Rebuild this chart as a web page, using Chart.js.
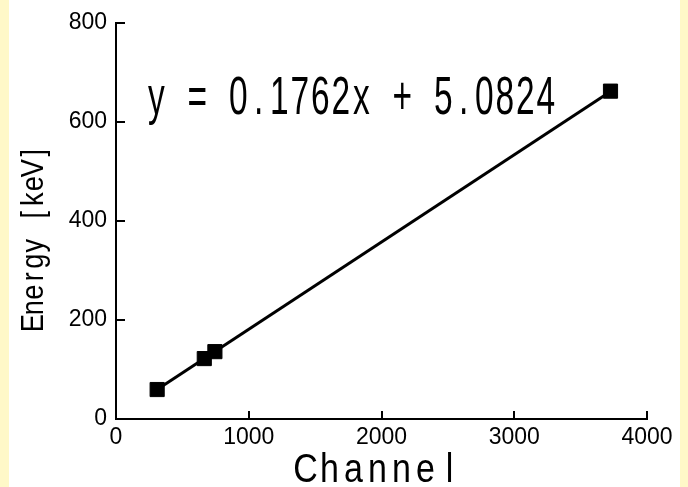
<!DOCTYPE html>
<html>
<head>
<meta charset="utf-8">
<script src="https://cdn.jsdelivr.net/npm/chart.js@4/dist/chart.umd.min.js"></script>
<style>
  html, body { margin: 0; padding: 0; }
  body {
    width: 688px; height: 487px; overflow: hidden;
    background: linear-gradient(to right, #fff8c8 0, #fff8c8 9px, #ffffff 9px, #ffffff 680px, #fff8c8 680px);
  }
  #wrap { position: relative; width: 688px; height: 487px; }
  canvas { display: block; }
</style>
</head>
<body>
<div id="wrap"><canvas id="c" width="688" height="487"></canvas></div>
<script>
// Data
const channels = [310, 665, 745, 3725];
const energies = [59.5, 122, 136, 662];
// Fitted line end points (as drawn in the picture)
const fitX = [310, 3725];
const fitY = [59.7, 661.4];
const xTicks = [0, 1000, 2000, 3000, 4000];
const yTicks = [0, 200, 400, 600, 800];
const equationText = 'y = 0.1762x + 5.0824';
const xTitle = 'Channel';
const yTitle = 'Energy [keV]';

const SANS = "'Liberation Sans', Arial, sans-serif";

// draws text with a fixed cell per character (half-width gothic look)
function cellText(ctx, text, x, y, totalW, sx, rotate) {
  const cell = totalW / text.length;
  ctx.save();
  ctx.translate(x, y);
  if (rotate) ctx.rotate(-Math.PI / 2);
  ctx.textAlign = 'center';
  for (let i = 0; i < text.length; i++) {
    ctx.save();
    ctx.translate(cell * i + cell / 2, 0);
    ctx.scale(sx, 1);
    ctx.fillText(text[i], 0, 0);
    ctx.restore();
  }
  ctx.restore();
}

const extras = {
  id: 'extras',
  afterDraw(chart) {
    const ctx = chart.ctx;
    const xs = chart.scales.x, ys = chart.scales.y;
    const area = chart.chartArea;
    ctx.save();
    ctx.strokeStyle = '#000';
    ctx.lineWidth = 2;
    ctx.beginPath();
    xTicks.forEach(v => {
      const px = Math.round(xs.getPixelForValue(v));
      ctx.moveTo(px, area.bottom);
      ctx.lineTo(px, area.bottom - 8);
    });
    yTicks.forEach(v => {
      const py = Math.round(ys.getPixelForValue(v));
      ctx.moveTo(area.left, py);
      ctx.lineTo(area.left + 9, py);
    });
    ctx.stroke();
    ctx.fillStyle = '#000';
    ctx.textBaseline = 'alphabetic';
    // equation text
    ctx.font = "54px " + SANS;
    cellText(ctx, equationText, area.left + 30, area.top + 91, 410, 0.62, false);
    // x axis title
    ctx.font = "40px " + SANS;
    cellText(ctx, xTitle, (area.left + area.right) / 2 - 88, chart.height - 5, 168, 0.85, false);
    // y axis title
    ctx.font = "32px " + SANS;
    cellText(ctx, yTitle, 43, (area.top + area.bottom) / 2 + 110, 186, 0.85, true);
    ctx.restore();
  }
};

new Chart(document.getElementById('c'), {
  type: 'scatter',
  data: {
    datasets: [
      {
        label: 'fit',
        data: fitX.map((x, i) => ({ x, y: fitY[i] })),
        showLine: true,
        borderColor: '#000',
        borderWidth: 3,
        pointRadius: 0,
        fill: false,
        order: 2
      },
      {
        label: 'points',
        data: channels.map((x, i) => ({ x, y: energies[i] })),
        pointStyle: 'rect',
        pointRadius: 10,
        pointBackgroundColor: '#000',
        pointBorderColor: '#000',
        pointBorderWidth: 1,
        order: 1
      }
    ]
  },
  options: {
    responsive: false,
    animation: false,
    devicePixelRatio: 1,
    layout: { padding: { top: 21, right: 41, left: 0, bottom: 0 } },
    plugins: { legend: { display: false }, tooltip: { enabled: false } },
    scales: {
      x: {
        type: 'linear', min: 0, max: 4000,
        afterBuildTicks(s) { s.ticks = xTicks.map(v => ({ value: v })); },
        afterFit(s) { s.height = 68; },
        grid: { display: false, drawTicks: false },
        border: { display: true, color: '#000', width: 2 },
        ticks: { color: '#000', font: { family: SANS, size: 23 }, padding: 5, maxRotation: 0, callback: v => String(v) }
      },
      y: {
        type: 'linear', min: 0, max: 800,
        afterBuildTicks(s) { s.ticks = yTicks.map(v => ({ value: v })); },
        afterFit(s) { s.width = 116; },
        grid: { display: false, drawTicks: false },
        border: { display: true, color: '#000', width: 2 },
        ticks: { color: '#000', font: { family: SANS, size: 23 }, padding: 9, callback: v => String(v) }
      }
    }
  },
  plugins: [extras]
});
</script>
</body>
</html>
